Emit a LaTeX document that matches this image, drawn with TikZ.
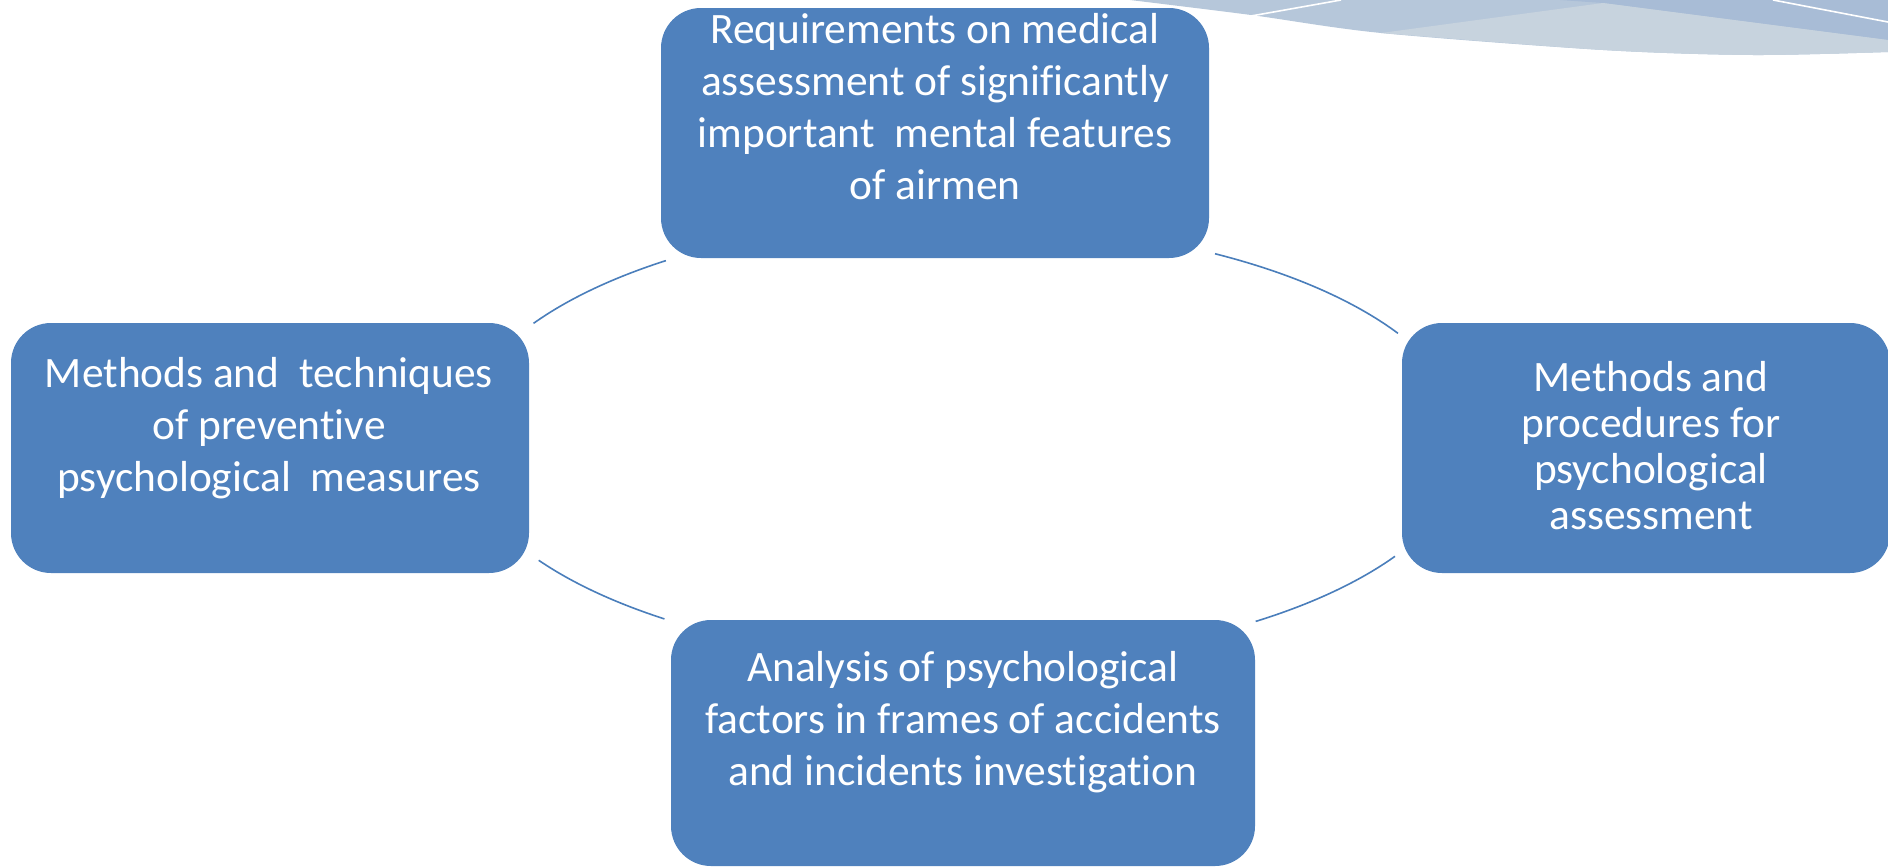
\documentclass[tikz,border=0pt]{standalone}
\usepackage{fontspec}
\setmainfont{Carlito}[Ligatures={NoCommon}]
\usetikzlibrary{calc}
\definecolor{boxblue}{HTML}{4F81BD}
\definecolor{arcblue}{HTML}{4A7EBB}
\definecolor{decoA}{HTML}{B6C7DA}
\definecolor{decoB}{HTML}{C7D3DE}
\definecolor{decoC}{HTML}{A8BCD6}
\tikzset{
  box/.style={fill=boxblue, draw=none, rounded corners=20pt, inner sep=0pt},
  boxtext/.style={text=white, align=center, inner sep=0pt, font=\fontsize{21.7}{26}\selectfont},
  ring/.style={draw=arcblue, line width=0.8pt},
  whiteline/.style={draw=white, line width=0.8pt}
}
\begin{document}
\begin{tikzpicture}[x=0.5pt,y=-0.5pt]
\useasboundingbox (0,0) rectangle (1888,867);
% decoration top right
\fill[decoA] (1130,0) -- (1888,0) -- (1888,52)
  plot[smooth] coordinates {(1888,52) (1753,55) (1603,50) (1381,33) (1251,15) (1130,0)} -- cycle;
\fill[decoC] (1560,0) -- (1888,0) -- (1888,40) -- (1603,3) -- cycle;
\fill[decoB] (1381,33) -- (1603,3) -- (1888,40) -- (1888,52)
  plot[smooth] coordinates {(1888,52) (1753,55) (1603,50) (1381,33)} -- cycle;
\draw[whiteline] (1251,16) -- (1341,0);
\draw[whiteline] (1773,0) -- (1888,22);
% boxes
\node[box, minimum width=274pt, minimum height=125pt] (top) at (935,133) {};
\node[box, minimum width=259pt, minimum height=125pt] (left) at (270,448) {};
\node[box, minimum width=244pt, minimum height=125pt] (right) at (1646,448) {};
\node[box, minimum width=292pt, minimum height=123pt] (bottom) at (963,743) {};
% texts
\node[boxtext] (ttop) at (935,107) {Requirements on medical\\assessment of significantly\\important\ \ mental features\\of airmen};
\node[boxtext] (tleft) at (269,428) {Methods and\ \ techniques\\of preventive\\psychological\ \ measures};
\node[boxtext, font=\fontsize{21.7}{23}\selectfont] (tright) at (1651,446) {Methods and\\procedures for\\psychological\\assessment};
\node[boxtext] (tbottom) at (963,722) {Analysis of psychological\\factors in frames of accidents\\and incidents investigation};
% ring arcs
\coordinate (ctr) at (964,440);
\coordinate (ctrtr) at (962,446);
\draw[ring] ($(ctr)+(148.3:253pt and 111pt)$) arc[start angle=148.3, end angle=126.1, x radius=253pt, y radius=111pt];
\draw[ring] ($(ctrtr)+(60:253pt and 111pt)$) arc[start angle=60, end angle=30.5, x radius=253pt, y radius=111pt];
\draw[ring] ($(ctr)+(-31.6:253pt and 111pt)$) arc[start angle=-31.6, end angle=-54.8, x radius=253pt, y radius=111pt];
\draw[ring] ($(ctr)+(212.8:253pt and 111pt)$) arc[start angle=212.8, end angle=233.7, x radius=253pt, y radius=111pt];
\end{tikzpicture}
\end{document}
